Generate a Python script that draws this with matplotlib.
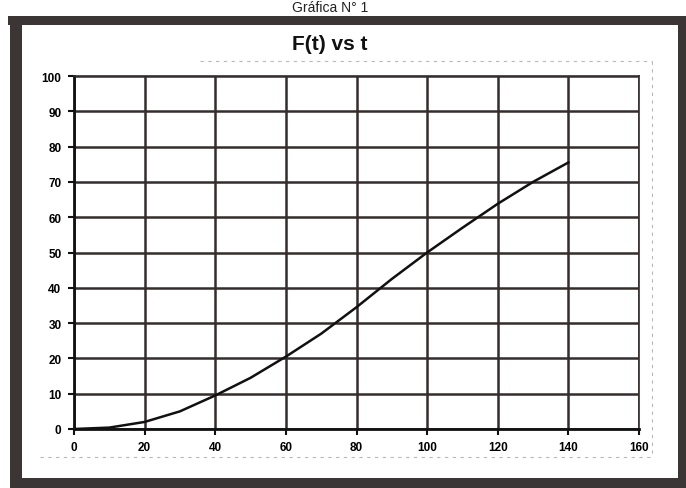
import matplotlib
matplotlib.use("Agg")
import matplotlib.pyplot as plt
from matplotlib.patches import Rectangle
from matplotlib.lines import Line2D

# --- data -------------------------------------------------------------------
t_vals = [0, 10, 20, 30, 40, 50, 60, 70, 80, 90, 100, 110, 120, 130, 140]
f_vals = [0, 0.4, 2.0, 5.0, 9.5, 14.5, 20.5, 27.0, 34.5, 42.5, 50.0, 57.0, 63.8, 70.0, 75.5]
x_ticks = [0, 20, 40, 60, 80, 100, 120, 140, 160]
y_ticks = [0, 10, 20, 30, 40, 50, 60, 70, 80, 90, 100]

TITLE = "F(t) vs t"
HEADER = "Gráfica N° 1"

W, H = 686, 489
GRID = "#352c2c"
FRAME = "#3b3535"

plt.rcParams["font.family"] = ["Liberation Sans", "DejaVu Sans"]

fig = plt.figure(figsize=(W / 100, H / 100), dpi=100)
fig.patch.set_facecolor("white")


def px(x0, y0, w, h):
    """figure-fraction rect from pixel box (top-left origin)"""
    return (x0 / W, 1 - (y0 + h) / H, w / W, h / H)


# chart-area border of the scan (dark thick frame)
for box in [(8, 17, 678, 9), (10, 17, 12, 466), (10, 479, 676, 10), (678, 22, 8, 467)]:
    x, y, w, h = px(*box)
    fig.add_artist(Rectangle((x, y), w, h, transform=fig.transFigure,
                             facecolor=FRAME, edgecolor="none", zorder=0))

# faint dashed plot-area outline left over from the spreadsheet
for (xa, ya, xb, yb) in [(200, 62, 652, 62), (652, 62, 652, 458), (40, 458, 652, 458)]:
    fig.add_artist(Line2D([xa / W, xb / W], [1 - ya / H, 1 - yb / H],
                          transform=fig.transFigure, color="#b8b8b8",
                          lw=0.8, ls=(0, (3, 4))))

# heading above the frame (cropped in the scan, kept small so it fits)
fig.text(330 / W, 1 - 8 / H, HEADER, ha="center", va="center",
         fontsize=10, color="#222222")

ax = fig.add_axes([74 / W, 1 - 430 / H, (639 - 74) / W, (430 - 77) / H])
ax.plot(t_vals, f_vals, color="#111111", lw=1.8, zorder=4)

ax.set_xlim(0, 160)
ax.set_ylim(0, 100)
ax.set_xticks(x_ticks)
ax.set_yticks(y_ticks)
ax.set_xticklabels([str(v) for v in x_ticks], fontsize=8.5, fontweight="bold")
ax.set_yticklabels([str(v) for v in y_ticks], fontsize=8.5, fontweight="bold")
ax.tick_params(axis="both", direction="out", length=4, width=1.5,
               color="#111111", pad=5)
ax.grid(True, color=GRID, lw=1.8)
ax.set_axisbelow(True)
for side in ["top", "right"]:
    ax.spines[side].set_color(GRID)
    ax.spines[side].set_linewidth(1.2)
for side in ["left", "bottom"]:
    ax.spines[side].set_color("#111111")
    ax.spines[side].set_linewidth(2.0)

fig.text(330 / W, 1 - 45 / H, TITLE, ha="center", va="center",
         fontsize=15, fontweight="bold", color="#111111")

fig.savefig("out.png", dpi=100)
